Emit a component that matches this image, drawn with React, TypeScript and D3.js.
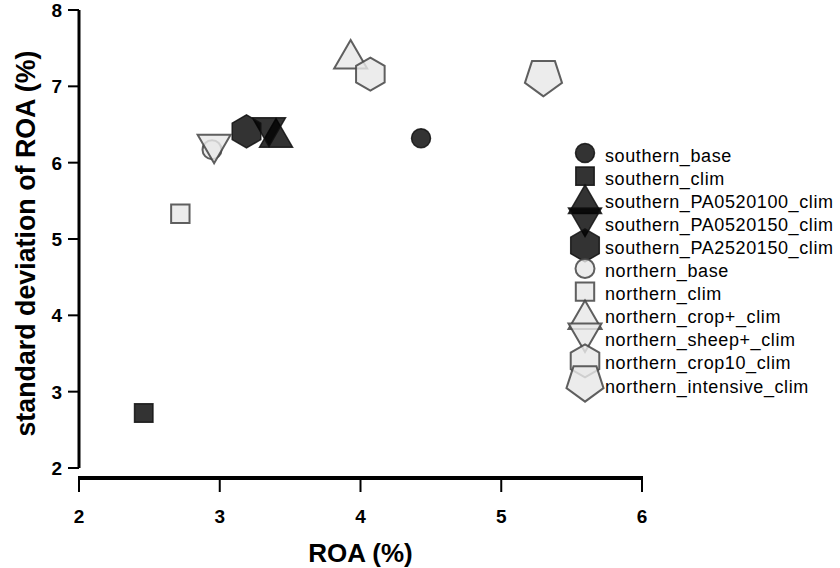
import * as d3 from 'd3';

const width = 840;
const height = 568;

// series, in draw order
const names = [
  'southern_base',
  'southern_clim',
  'southern_PA0520100_clim',
  'southern_PA0520150_clim',
  'southern_PA2520150_clim',
  'northern_base',
  'northern_clim',
  'northern_crop+_clim',
  'northern_sheep+_clim',
  'northern_crop10_clim',
  'northern_intensive_clim',
];
const roa = [4.43, 2.46, 3.40, 3.35, 3.19, 2.945, 2.72, 3.93, 2.96, 4.07, 5.30];
const sdRoa = [6.32, 2.72, 6.39, 6.40, 6.41, 6.17, 5.33, 7.42, 6.18, 7.16, 7.10];
const shapes = ['circle', 'square', 'triUp', 'triDown', 'hexagon',
  'circle', 'square', 'triUp', 'triDown', 'hexagon', 'pentagon'];
const region = ['s', 's', 's', 's', 's', 'n', 'n', 'n', 'n', 'n', 'n'];

const xTicks = [2, 3, 4, 5, 6];
const yTicks = [2, 3, 4, 5, 6, 7, 8];

const x = d3.scaleLinear().domain([2, 6]).range([79, 642]);
const y = d3.scaleLinear().domain([2, 8]).range([468, 10]);

const poly = d3.line();

const shapePath = (s) => {
  if (s === 'circle') {
    const r = 9.5;
    return `M${-r},0A${r},${r} 0 1,0 ${r},0A${r},${r} 0 1,0 ${-r},0Z`;
  }
  if (s === 'square') {
    const h = 9.2;
    return poly([[-h, -h], [h, -h], [h, h], [-h, h]]) + 'Z';
  }
  if (s === 'triUp') return poly([[0, -14.3], [16.5, 14.3], [-16.5, 14.3]]) + 'Z';
  if (s === 'triDown') return poly([[0, 14.3], [16.5, -14.3], [-16.5, -14.3]]) + 'Z';
  if (s === 'hexagon') {
    const r = 16.5;
    return poly(d3.range(6).map(k => {
      const a = (-90 + 60 * k) * Math.PI / 180;
      return [r * Math.cos(a), r * Math.sin(a)];
    })) + 'Z';
  }
  // pentagon, point down, centred on its bounding box
  const R = 19.5;
  const off = -0.095 * R;
  return poly(d3.range(5).map(k => {
    const a = (90 + 72 * k) * Math.PI / 180;
    return [R * Math.cos(a), R * Math.sin(a) + off];
  })) + 'Z';
};

const style = (g) => g === 's'
  ? { fill: '#000', fillOpacity: 0.8, stroke: '#111', strokeOpacity: 0.85, strokeWidth: 1.5 }
  : { fill: '#e8e8e8', fillOpacity: 0.82, stroke: '#444', strokeOpacity: 0.85, strokeWidth: 2 };

const font = 'Liberation Sans, Arial, Helvetica, sans-serif';

const App = () => {
  return (
    <svg width={width} height={height} style={{ position: 'absolute', left: 0, top: 0 }}>
      <rect width={width} height={height} fill="#fff" />

      {/* y axis */}
      <line x1={x(2)} x2={x(2)} y1={y(8)} y2={y(2)} stroke="#000" strokeWidth={3} />
      {yTicks.map(t => (
        <g key={'y' + t}>
          <line x1={x(2) - 11} x2={x(2)} y1={y(t)} y2={y(t)} stroke="#000" strokeWidth={2} />
          <text x={62} y={y(t)} dy="0.36em" textAnchor="end" fontFamily={font}
            fontWeight="bold" fontSize={19}>{t}</text>
        </g>
      ))}

      {/* x axis */}
      <line x1={x(2) - 1} x2={x(6) + 1} y1={478} y2={478} stroke="#000" strokeWidth={4} />
      {xTicks.map(t => (
        <g key={'x' + t}>
          <line x1={x(t)} x2={x(t)} y1={478} y2={492} stroke="#000" strokeWidth={2} />
          <text x={x(t)} y={523} textAnchor="middle" fontFamily={font}
            fontWeight="bold" fontSize={19}>{t}</text>
        </g>
      ))}

      <text x={360.5} y={562} textAnchor="middle" fontFamily={font} fontWeight="bold"
        fontSize={26}>ROA (%)</text>
      <text transform="translate(35,243.5) rotate(-90)" textAnchor="middle" fontFamily={font}
        fontWeight="bold" fontSize={26.8}>standard deviation of ROA (%)</text>

      {/* points */}
      {names.map((n, i) => (
        <path key={n} d={shapePath(shapes[i])}
          transform={`translate(${x(roa[i])},${y(sdRoa[i])})`} {...style(region[i])} />
      ))}

      {/* legend */}
      {names.map((n, i) => {
        const cy = 153 + i * 23.1;
        return (
          <g key={'l' + n}>
            <path d={shapePath(shapes[i])} transform={`translate(585,${cy})`} {...style(region[i])} />
            <text x={605} y={cy + 8.5} fontFamily={font} fontSize={18}
              letterSpacing={0.6}>{n}</text>
          </g>
        );
      })}
    </svg>
  );
};

export default App;
